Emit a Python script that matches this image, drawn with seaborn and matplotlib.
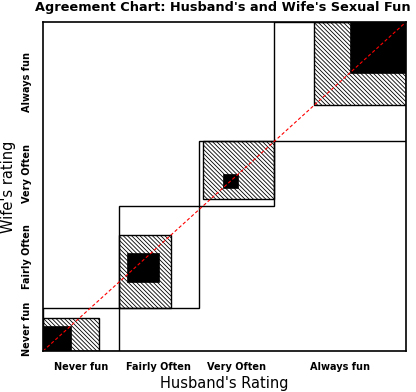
import numpy as np
import matplotlib
matplotlib.use('Agg')
import matplotlib.pyplot as plt
from matplotlib.patches import Rectangle
import seaborn as sns

categories = ['Never fun', 'Fairly Often', 'Very Often', 'Always fun']
# rows = husband's rating, columns = wife's rating
never_fun = [7, 7, 2, 3]
fairly_often = [2, 8, 3, 7]
very_often = [1, 5, 4, 9]
always_fun = [2, 8, 9, 14]

tab = np.array([never_fun, fairly_often, very_often, always_fun])
rows = tab.sum(axis=1)
cols = tab.sum(axis=0)
n = tab.sum()
xc = np.concatenate([[0], np.cumsum(rows)])
yc = np.concatenate([[0], np.cumsum(cols)])

sns.set_style('white')
plt.rcParams['hatch.linewidth'] = 0.6
plt.rcParams['text.color'] = 'black'
plt.rcParams['axes.labelcolor'] = 'black'
plt.rcParams['xtick.color'] = 'black'
plt.rcParams['ytick.color'] = 'black'

fig = plt.figure(figsize=(4.16, 3.92), dpi=100)
ax = fig.add_axes([0.1034, 0.1046, 0.8726, 0.8393])

k = len(categories)
for i in range(k):
    # partial agreement (adjacent cells)
    lo = max(i - 1, 0)
    hi = min(i + 1, k - 1)
    hx0 = xc[i] + tab[i, :lo].sum()
    hx1 = xc[i] + tab[i, :hi + 1].sum()
    hy0 = yc[i] + tab[:lo, i].sum()
    hy1 = yc[i] + tab[:hi + 1, i].sum()
    ax.add_patch(Rectangle((hx0, hy0), hx1 - hx0, hy1 - hy0, facecolor='white',
                           edgecolor='black', hatch='\\' * 8, lw=1.0))
    # exact agreement
    bx0 = xc[i] + tab[i, :i].sum()
    by0 = yc[i] + tab[:i, i].sum()
    ax.add_patch(Rectangle((bx0, by0), tab[i, i], tab[i, i], facecolor='black',
                           edgecolor='black', lw=0.5))
    # box for category
    ax.add_patch(Rectangle((xc[i], yc[i]), rows[i], cols[i], fill=False,
                           edgecolor='black', lw=1.0))

sns.lineplot(x=[0, n], y=[0, n], ax=ax, color='red', lw=0.8,
             linestyle=(0, (3, 2)))

ax.set_xlim(0, n)
ax.set_ylim(0, n)
for s in ax.spines.values():
    s.set_linewidth(1.2)
    s.set_color('black')

ax.set_xticks((xc[:-1] + xc[1:]) / 2)
ax.set_xticklabels(categories, fontsize=7, fontweight='bold')
ax.set_yticks((yc[:-1] + yc[1:]) / 2)
ax.set_yticklabels(categories, fontsize=7, fontweight='bold', rotation=90, va='center')
ax.tick_params(length=0, pad=8)

ax.set_xlabel("Husband's Rating", fontsize=10.5, va='center')
ax.xaxis.set_label_coords(0.5, -0.100)
ax.set_ylabel("Wife's rating", fontsize=10.5, va='center')
ax.yaxis.set_label_coords(-0.096, 0.5)
fig.text(0.535, 0.98, "Agreement Chart: Husband's and Wife's Sexual Fun",
         ha='center', va='center', fontsize=9.3, fontweight='bold')

fig.savefig('out.png', dpi=100)
